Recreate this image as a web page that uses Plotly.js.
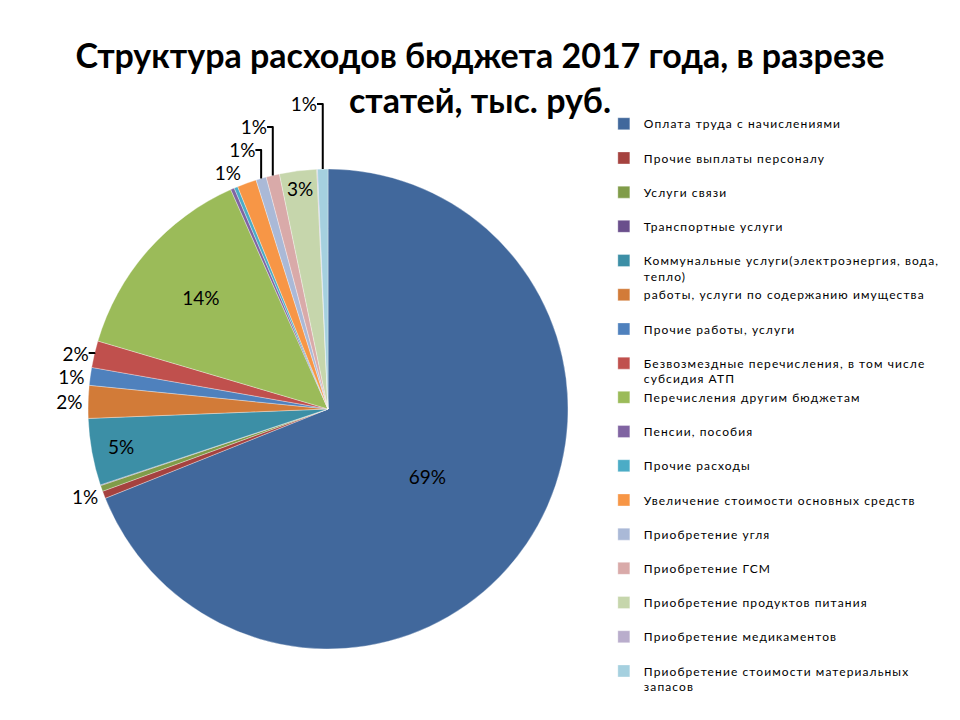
<!DOCTYPE html>
<html>
<head>
<meta charset="utf-8">
<script src="https://cdn.plot.ly/plotly-3.0.1.min.js"></script>
<style>
  html, body { margin: 0; padding: 0; background: #fff; }
  #chart { width: 960px; height: 720px; }
  .legendtext { letter-spacing: 1.1px; }
</style>
</head>
<body>
<div id="chart"></div>
<script>
// Categories (legend order = slice order, clockwise from 12 o'clock)
const categories = [
  "Оплата труда с начислениями",
  "Прочие выплаты персоналу",
  "Услуги связи",
  "Транспортные услуги",
  "Коммунальные услуги(электроэнергия, вода,<br>тепло)",
  "работы, услуги по содержанию имущества",
  "Прочие работы, услуги",
  "Безвозмездные перечисления, в том числе<br>субсидия АТП",
  "Перечисления другим бюджетам",
  "Пенсии, пособия",
  "Прочие расходы",
  "Увеличение стоимости основных средств",
  "Приобретение угля",
  "Приобретение ГСМ",
  "Приобретение продуктов питания",
  "Приобретение медикаментов",
  "Приобретение стоимости материальных<br>запасов"
];

// Share of expenses, %
const shares = [69.0, 0.5, 0.4, 0.05, 4.5, 2.2, 1.2, 1.8, 13.8, 0.25, 0.25, 1.3, 0.7, 0.9, 2.5, 0.05, 0.7];

// Data labels shown on the chart ('' = not shown)
const dataLabels = ["69%", "1%", "", "", "5%", "2%", "1%", "2%", "14%", "", "", "1%", "1%", "1%", "3%", "", "1%"];

const colors = [
  "#41689C", "#A5423F", "#809C49", "#6A4F8C", "#3C8FA6", "#D27B38",
  "#4F81BD", "#C0504D", "#9BBB59", "#8064A2", "#4BACC6", "#F79646",
  "#AAB9D7", "#D9AAA9", "#C6D6AC", "#B9ADCC", "#A5D0DF"
];

const insideSet = new Set(["69%", "5%", "14%", "3%"]);
const positions = dataLabels.map(t => t === "" ? "none" : (insideSet.has(t) ? "inside" : "outside"));

// Legend entries: pad one-line labels to two lines so each entry takes the same slot
const legendLabels = categories.map(c => c.includes("<br>") ? c : c + "<br>\u00a0");

const FONT = "Lato, 'Liberation Sans', sans-serif";

const trace = {
  type: "pie",
  labels: legendLabels,
  values: shares,
  text: dataLabels,
  textinfo: "text",
  textposition: positions,
  insidetextorientation: "horizontal",
  sort: false,
  direction: "clockwise",
  rotation: 0,
  marker: { colors: colors, line: { color: "rgba(255,255,255,0.55)", width: 0.6 } },
  textfont: { family: FONT, size: 19, color: "#000" },
  outsidetextfont: { family: FONT, size: 19, color: "#000" },
  insidetextfont: { family: FONT, size: 19, color: "#000" },
  domain: { x: [0.0917, 0.5917], y: [0.0986, 0.7653] },
  hoverinfo: "label+percent"
};

const layout = {
  width: 960,
  height: 720,
  margin: { l: 0, r: 0, t: 0, b: 0 },
  paper_bgcolor: "#fff",
  plot_bgcolor: "#fff",
  uniformtext: { minsize: 19, mode: "show" },
  title: {
    text: "Структура расходов бюджета 2017 года, в разрезе<br>статей, тыс. руб.",
    font: { family: FONT, size: 34, color: "#000", weight: 700 },
    x: 0.5,
    xanchor: "center",
    xref: "container",
    y: 0.905,
    yanchor: "top",
    yref: "container"
  },
  showlegend: true,
  legend: {
    x: 0.629,
    xanchor: "left",
    y: 0.848,
    yanchor: "top",
    valign: "top",
    font: { family: FONT, size: 12, color: "#000" },
    bgcolor: "rgba(0,0,0,0)",
    itemwidth: 30
  }
};

Plotly.newPlot("chart", [trace], layout, { displayModeBar: false, staticPlot: true });
</script>
</body>
</html>
